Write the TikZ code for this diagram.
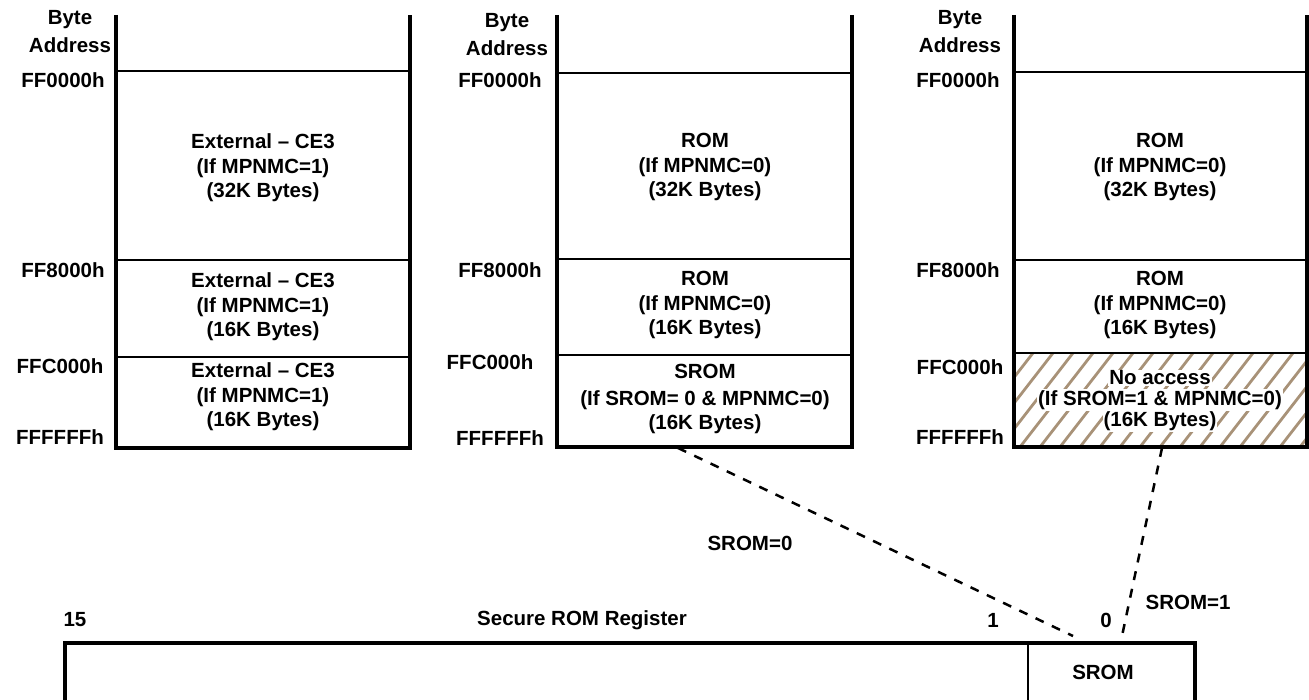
\documentclass[tikz,border=0pt]{standalone}
\usepackage{fontspec}
\setmainfont{Liberation Sans}
\begin{document}
\begin{tikzpicture}[x=1pt,y=-1pt,
  lbl/.style={font=\fontsize{20.5}{24.5}\selectfont\bfseries, align=center, inner sep=0pt},
  wall/.style={line width=3.5pt},
  divline/.style={line width=1.8pt},
  conn/.style={line width=2.5pt, dash pattern=on 9pt off 9pt},
  hatchline/.style={line width=2.8pt, draw=hatchc}]
\definecolor{hatchc}{RGB}{168,146,120}
\useasboundingbox (0,0) rectangle (1309,700);

% ---------- Panel 3 hatching ----------
\begin{scope}
  \clip (1014,353) rectangle (1307,447);
  \foreach \x in {940,960,...,1320} {
    \draw[hatchline] (\x,447) -- ({\x+73},353);
  }
\end{scope}

% ---------- Panel 1 ----------
\draw[wall] (116,15) -- (116,448) -- (410,448) -- (410,15);
\draw[divline] (116,71) -- (410,71);
\draw[divline] (116,260) -- (410,260);
\draw[divline] (116,357) -- (410,357);
\node[lbl] (p1ba) at (70,32) {Byte\\[3.5pt]Address};
\node[lbl] (p1a0) at (63,80) {FF0000h};
\node[lbl] (p1a1) at (63,270) {FF8000h};
\node[lbl] (p1a2) at (60,366) {FFC000h};
\node[lbl] (p1a3) at (60,437) {FFFFFFh};
\node[lbl] (p1c1) at (263,168) {External -- CE3\\(If MPNMC=1)\\(32K Bytes)};
\node[lbl] (p1c2) at (263,307) {External -- CE3\\(If MPNMC=1)\\(16K Bytes)};
\node[lbl] (p1c3) at (263,397) {External -- CE3\\(If MPNMC=1)\\(16K Bytes)};

% ---------- Panel 2 ----------
\draw[wall] (557,15) -- (557,447) -- (852,447) -- (852,15);
\draw[divline] (557,73) -- (852,73);
\draw[divline] (557,259) -- (852,259);
\draw[divline] (557,355) -- (852,355);
\node[lbl] (p2ba) at (507,35) {Byte\\[3.5pt]Address};
\node[lbl] (p2a0) at (500,80) {FF0000h};
\node[lbl] (p2a1) at (500,270) {FF8000h};
\node[lbl] (p2a2) at (490,362) {FFC000h};
\node[lbl] (p2a3) at (500,438) {FFFFFFh};
\node[lbl] (p2c1) at (705,167) {ROM\\(If MPNMC=0)\\(32K Bytes)};
\node[lbl] (p2c2) at (705,305) {ROM\\(If MPNMC=0)\\(16K Bytes)};
\node[lbl] (p2c3) at (705,399) {SROM\\[2.5pt](If SROM= 0 \& MPNMC=0)\\(16K Bytes)};

% ---------- Panel 3 ----------
\node[lbl, fill=white, inner sep=1pt] (p3t1) at (1160,378) {No access};
\node[lbl, fill=white, inner sep=1pt] (p3t2) at (1160,400) {(If SROM=1 \& MPNMC=0)};
\node[lbl, fill=white, inner sep=1pt] (p3t3) at (1160,421) {(16K Bytes)};
\draw[wall] (1014,15) -- (1014,447) -- (1307,447) -- (1307,15);
\draw[divline] (1014,72) -- (1307,72);
\draw[divline] (1014,260) -- (1307,260);
\draw[divline] (1014,353) -- (1307,353);
\node[lbl] (p3ba) at (960,32) {Byte\\[3.5pt]Address};
\node[lbl] (p3a0) at (958,80) {FF0000h};
\node[lbl] (p3a1) at (958,270) {FF8000h};
\node[lbl] (p3a2) at (960,367) {FFC000h};
\node[lbl] (p3a3) at (960,437) {FFFFFFh};
\node[lbl] (p3c1) at (1160,167) {ROM\\(If MPNMC=0)\\(32K Bytes)};
\node[lbl] (p3c2) at (1160,305) {ROM\\(If MPNMC=0)\\(16K Bytes)};

% ---------- Register ----------
\draw[wall] (65,712) -- (65,643) -- (1195,643) -- (1195,712);
\draw[divline] (1028,643) -- (1028,700);
\node[lbl] (b15) at (75,620) {15};
\node[lbl] (regname) at (582,620) {Secure ROM Register};
\node[lbl] (b1) at (993,620) {1};
\node[lbl] (b0) at (1106,620) {0};
\node[lbl] (sromcell) at (1103,672) {SROM};

% ---------- Connectors ----------
\coordinate (s2) at (678,448);
\coordinate (s3) at (1162,448);
\coordinate (r0a) at (1073,636);
\coordinate (r0b) at (1122,636);
\draw[conn] (s2) -- (r0a);
\draw[conn] (s3) -- (r0b);
\node[lbl] (l0) at (750,543) {SROM=0};
\node[lbl] (l1) at (1188,602) {SROM=1};
\end{tikzpicture}
\end{document}
